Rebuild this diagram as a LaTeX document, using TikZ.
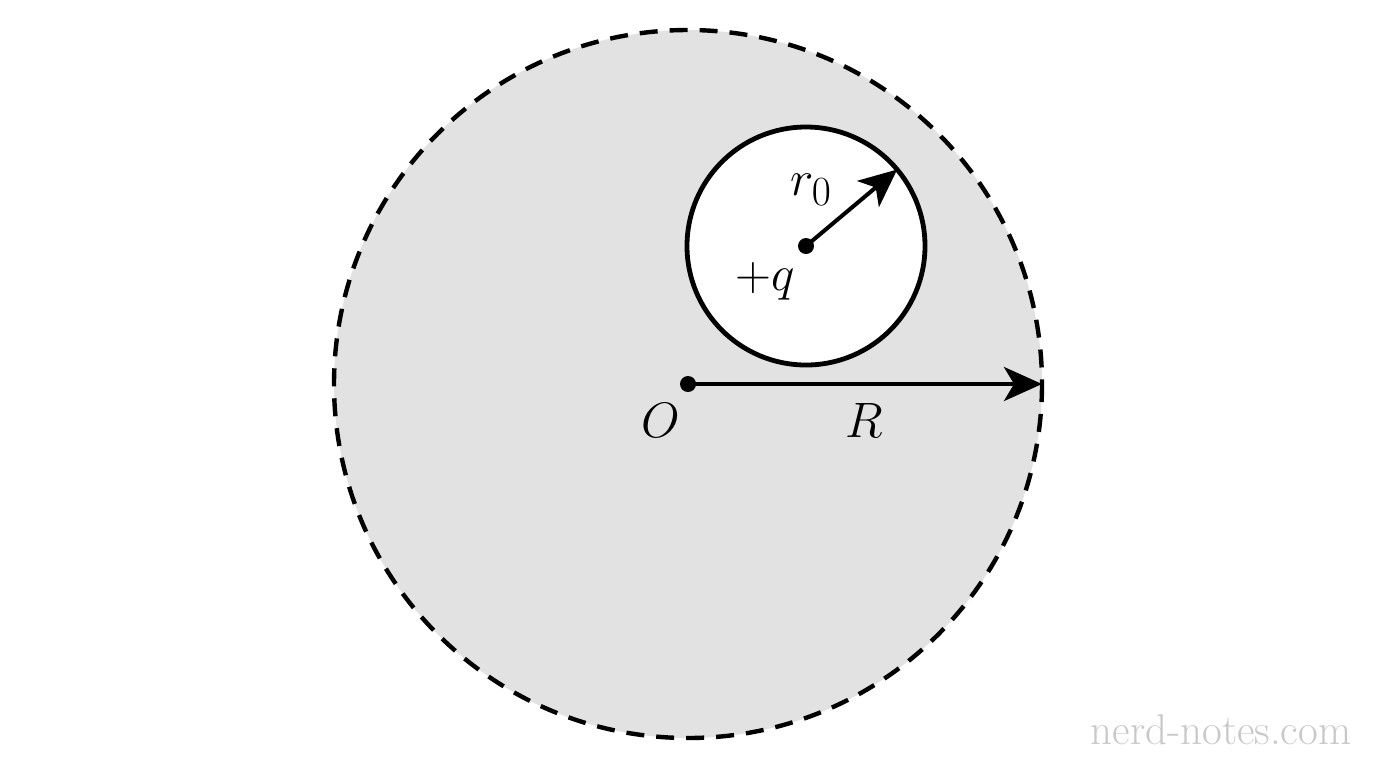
\documentclass[tikz,border=0pt]{standalone}
\usepackage{amsmath, tikz, xcolor}
\usetikzlibrary{arrows.meta, calc}
\definecolor{shellgray}{HTML}{E2E2E2}
\definecolor{markgray}{HTML}{C8C8C8}
\tikzset{rim/.style = {line width=2.2pt, dash pattern=on 9pt off 6pt}}
\tikzset{vec/.style = {line width=2pt, -{Stealth[length=19pt, width=17pt, inset=5pt]}}}

\begin{document}
\begin{tikzpicture}[x=0.5pt, y=-0.5pt, font=\fontsize{31}{33}\selectfont]
\useasboundingbox (0,0) rectangle (1376,768);
\coordinate (O) at (688,384);
\coordinate (A) at (1042,384);
\coordinate (Q) at (806,246);
\coordinate (B) at ($(Q)+(-40:119)$);
\fill[shellgray] (O) circle[radius=354];
\draw[rim] (O) circle[radius=354];
\draw[line width=2.4pt, fill=white] (Q) circle[radius=119];
\draw[vec] (O) -- (A);
\draw[vec] (Q) -- (B);
\fill (O) circle[radius=8];
\fill (Q) circle[radius=8];
\node (lO) at (661,420) {$O$};
\node (lR) at (864,420) {$R$};
\node (lr) at (811,190) {$r_0$};
\node (lq) at (765,281) {$+q$};
\node[text=markgray, font=\fontsize{21.5}{23}\selectfont] (mark) at (1221,730) {nerd-notes.com};
\end{tikzpicture}
\end{document}
